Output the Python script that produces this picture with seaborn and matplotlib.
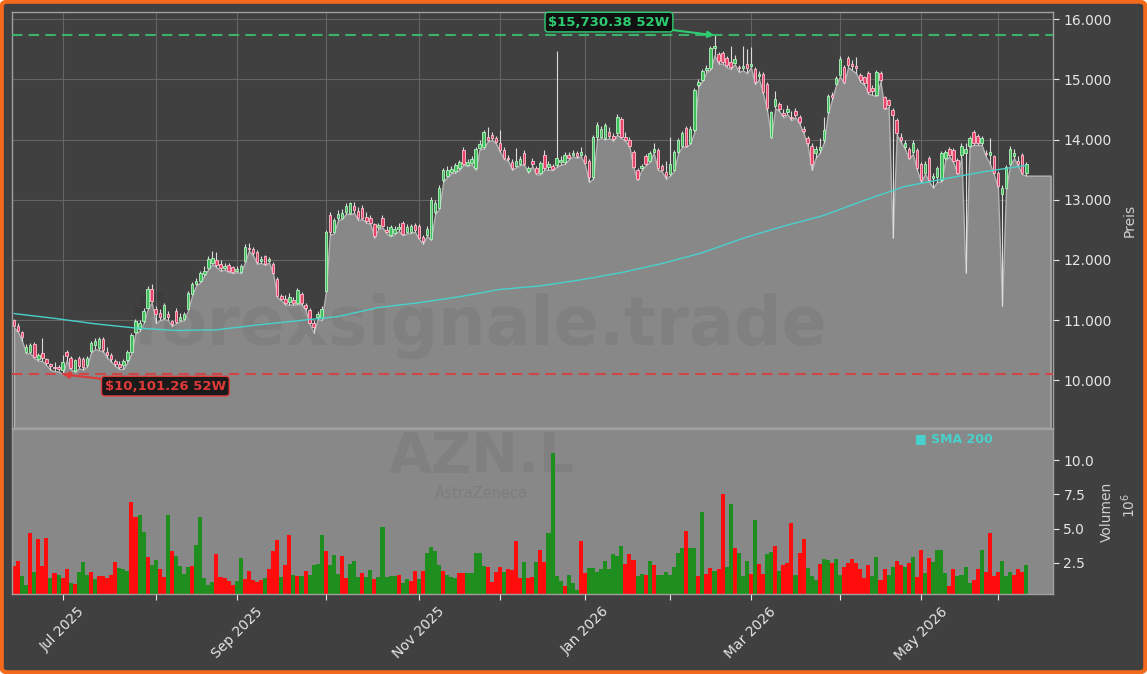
import numpy as np
import pandas as pd
import matplotlib
matplotlib.use("Agg")
import matplotlib.pyplot as plt
import seaborn as sns
from matplotlib.patches import FancyBboxPatch
from matplotlib.ticker import FuncFormatter

# ---- daily OHLC (GBp) ----
open_ = [
    11000, 10910, 10800, 10480, 10470, 10610, 10350, 10450, 10350, 10270,
    10230, 10220, 10170, 10470, 10370, 10160, 10370, 10360, 10260, 10490,
    10580, 10540, 10690, 10480, 10420, 10330, 10280, 10250, 10340, 10480,
    10800, 10850, 10990, 11200, 11520, 11180, 11120, 11040, 11100, 10990,
    11160, 11000, 11020, 11190, 11440, 11600, 11650, 11760, 11870, 11950,
    12000, 11940, 11860, 11920, 11880, 11820, 11800, 11990, 12200, 12190,
    12140, 11980, 12060, 11990, 11940, 11690, 11400, 11360, 11300, 11340,
    11290, 11440, 11250, 11170, 10960, 11060, 11040, 11490, 12740, 12460,
    12690, 12700, 12800, 12780, 12900, 12820, 12870, 12720, 12700, 12600,
    12540, 12690, 12500, 12410, 12450, 12510,
    12610, 12460, 12470,
    12580, 12560, 12380, 12420, 12350, 12800, 12870, 13320, 13400, 13460,
    13480, 13520, 13820, 13580, 13610, 13520, 13860, 13870, 14040, 14080,
    14030, 13940, 13820, 13700, 13620, 13560, 13600, 13770, 13470, 13650,
    13520, 13440, 13750, 13540, 13560, 13570, 13620, 13620, 13750, 13740,
    13770, 13740, 13720, 13650, 13370, 14040, 14040, 14020, 14130, 14050,
    14100, 14340, 14040, 14000, 13790, 13490, 13520, 13720, 13650, 13800,
    13820, 13560, 13460, 13420,
    13500, 13790, 13900, 14190, 13950,
    14150, 14900, 14990, 15150, 15180, 15520, 15420, 15440, 15350, 15280,
    15270, 15200, 15180, 15250, 15220, 15170, 15050, 15080, 14920, 14040,
    14550, 14590, 14440, 14450, 14380, 14470, 14370, 14170, 14020, 13900,
    13770, 13820,
    14000, 14450, 14740, 14920, 15070, 15200, 15350,
    15260, 15220, 15070, 15030, 15100, 14850, 14740, 15100, 14700, 14650,
    14490, 14320, 14040, 13870, 13850, 13790, 13820, 13600, 13450, 13700,
    13360, 13370, 13320, 13690, 13840, 13820, 13660, 13740, 13780, 13900,
    14120, 14060, 13940, 13770, 13750, 13720, 13440, 13090, 13190, 13600,
    13720, 13650, 13750, 13450,
]
high = [
    11020, 10950, 10820, 10600, 10620, 10640, 10450, 10700, 10370, 10290,
    10300, 10260, 10420, 10500, 10400, 10360, 10400, 10390, 10400, 10660,
    10700, 10720, 10720, 10560, 10450, 10350, 10330, 10350, 10500, 10780,
    11020, 11000, 11200, 11560, 11600, 11240, 11180, 11290, 11150, 11000,
    11200, 11120, 11140, 11480, 11640, 11700, 11820, 11900, 12060, 12150,
    12130, 12000, 11950, 11950, 11900, 11900, 11940, 12260, 12280, 12220,
    12170, 12060, 12080, 12050, 11960, 11720, 11430, 11420, 11450, 11380,
    11540, 11470, 11280, 11200, 11000, 11150, 11230, 12500, 12800, 12700,
    12830, 12850, 12950, 12970, 12960, 12880, 12920, 12800, 12750, 12620,
    12620, 12740, 12560, 12580, 12560, 12620,
    12650, 12590, 12600,
    12620, 12590, 12420, 12560, 13040, 12990, 13250, 13530, 13560, 13560,
    13610, 13660, 13870, 13680, 13720, 13880, 13990, 14160, 14200, 14130,
    14060, 14150, 13880, 13740, 13680, 13860, 13720, 13820, 13560, 13690,
    13560, 13650, 13820, 13650, 13600, 15470, 13720, 13800, 13790, 13830,
    13810, 13880, 13760, 13680, 14080, 14290, 14230, 14280, 14200, 14100,
    14420, 14370, 14120, 14040, 13820, 13520, 13600, 13760, 13810, 13950,
    13860, 13600, 13640, 14040,
    13830, 14030, 14140, 14230, 14220,
    14860, 15000, 15170, 15230, 15560, 15730.38, 15460, 15470, 15390, 15550,
    15400, 15240, 15560, 15500, 15540, 15200, 15130, 15120, 14960, 14480,
    14800, 14630, 14500, 14580, 14470, 14520, 14400, 14220, 14060, 13950,
    13900, 14020,
    14370, 14760, 14790, 15060, 15380, 15230, 15380,
    15320, 15370, 15100, 15060, 15130, 14900, 15160, 15130, 14720, 14680,
    14520, 14350, 14100, 13990, 13880, 14000, 13860, 13630, 13640, 13730,
    13440, 13560, 13810, 13830, 13870, 13860, 13700, 13950, 13950, 14060,
    14150, 14090, 14060, 13820, 14030, 13750, 13470, 13240, 13580, 13900,
    13840, 13730, 13780, 13620,
]
low = [
    10880, 10800, 10650, 10450, 10450, 10370, 10330, 10320, 10250, 10180,
    10150, 10150, 10101.26, 10330, 10190, 10140, 10200, 10180, 10230, 10460,
    10520, 10500, 10480, 10380, 10310, 10240, 10190, 10190, 10300, 10450,
    10780, 10820, 10950, 11180, 11300, 10950, 11000, 11020, 11000, 10900,
    10950, 10980, 11000, 11170, 11420, 11580, 11630, 11740, 11850, 11930,
    11880, 11820, 11840, 11800, 11780, 11800, 11780, 11960, 12150, 12080,
    11940, 11950, 11920, 11960, 11770, 11380, 11330, 11260, 11260, 11260,
    11270, 11260, 11170, 10940, 10790, 11020, 11000, 11460, 12420, 12440,
    12660, 12680, 12770, 12760, 12780, 12660, 12680, 12620, 12600, 12370,
    12520, 12540, 12440, 12390, 12430, 12480,
    12410, 12440, 12450,
    12470, 12350, 12270, 12400, 12330, 12760, 12850, 13300, 13380, 13440,
    13450, 13500, 13580, 13560, 13590, 13500, 13840, 13850, 13970, 13990,
    13940, 13800, 13680, 13650, 13500, 13540, 13580, 13580, 13450, 13560,
    13420, 13420, 13500, 13500, 13490, 13550, 13580, 13600, 13670, 13720,
    13700, 13720, 13590, 13290, 13350, 14000, 14020, 14000, 14020, 13980,
    14080, 14020, 13980, 13880, 13520, 13330, 13500, 13570, 13630, 13780,
    13500, 13470, 13350, 13400,
    13480, 13770, 13880, 13880, 13930,
    14120, 14880, 14970, 15120, 15160, 15400, 15260, 15260, 15200, 15170,
    15250, 15120, 15150, 15100, 15200, 14920, 15000, 14760, 14480, 14020,
    14520, 14470, 14370, 14420, 14320, 14370, 14260, 14100, 13900, 13490,
    13700, 13780,
    13950, 14430, 14660, 14900, 15050, 14930, 15200,
    15150, 15100, 14960, 14910, 14760, 14740, 14720, 14960, 14500, 14540,
    12370, 14080, 13960, 13850, 13680, 13760, 13500, 13300, 13430, 13300,
    13200, 13300, 13300, 13660, 13720, 13620, 13420, 13700, 11790, 13880,
    13910, 13910, 13910, 13720, 13600, 13420, 13200, 11240, 13170, 13580,
    13690, 13560, 13420, 13400,
]
close = [
    10900, 10820, 10720, 10560, 10580, 10390, 10420, 10380, 10290, 10240,
    10200, 10190, 10300, 10400, 10210, 10340, 10240, 10220, 10380, 10620,
    10650, 10690, 10500, 10430, 10350, 10280, 10230, 10320, 10480, 10750,
    10990, 10950, 11160, 11520, 11320, 11100, 11060, 11250, 11060, 10930,
    10970, 11060, 11100, 11450, 11600, 11650, 11780, 11820, 12020, 12040,
    11920, 11860, 11900, 11820, 11800, 11850, 11900, 12220, 12180, 12110,
    11960, 12020, 11940, 12010, 11790, 11400, 11360, 11290, 11380, 11290,
    11500, 11290, 11200, 10960, 10880, 11110, 11190, 12460, 12460, 12660,
    12770, 12780, 12900, 12940, 12830, 12700, 12700, 12650, 12620, 12400,
    12580, 12560, 12460, 12540, 12510, 12550,
    12430, 12550, 12560,
    12490, 12370, 12320, 12510, 12990, 12940, 13200, 13490, 13500, 13510,
    13570, 13620, 13600, 13630, 13680, 13840, 13930, 14120, 14000, 14020,
    13960, 13820, 13700, 13670, 13520, 13650, 13680, 13600, 13520, 13600,
    13440, 13610, 13520, 13600, 13510, 13690, 13660, 13750, 13690, 13780,
    13720, 13790, 13610, 13370, 14040, 14240, 14180, 14240, 14050, 14010,
    14370, 14040, 14000, 13900, 13540, 13350, 13560, 13590, 13770, 13850,
    13520, 13490, 13400, 13600,
    13790, 13990, 14100, 13900, 14170,
    14820, 14950, 15130, 15180, 15520, 15550, 15300, 15290, 15240, 15200,
    15340, 15180, 15220, 15180, 15260, 14950, 15080, 14790, 14520, 14450,
    14670, 14500, 14400, 14500, 14350, 14400, 14290, 14140, 13940, 13600,
    13850, 13880,
    14150, 14720, 14700, 15020, 15330, 14950, 15230,
    15220, 15190, 14990, 14940, 14790, 14800, 15120, 14990, 14520, 14570,
    14410, 14100, 13990, 13940, 13700, 13950, 13520, 13320, 13600, 13320,
    13390, 13520, 13770, 13790, 13750, 13650, 13450, 13900, 13850, 14020,
    13940, 13940, 14020, 13760, 13800, 13450, 13220, 13200, 13540, 13850,
    13770, 13600, 13450, 13590,
]

# ---- daily volume (millions) and bar direction (G up / R down) ----
volume_m = [
    2.28, 2.65, 1.53, 0.86, 4.71, 1.81, 4.21, 2.23, 4.28, 1.38,
    1.73, 1.58, 1.38, 2.05, 0.99, 0.91, 1.81, 2.55, 1.61, 1.81,
    1.29, 1.53, 1.53, 1.41, 1.56, 2.55, 2.10, 2.05, 1.91, 6.96,
    5.85, 5.97, 4.78, 2.95, 2.35, 2.72, 2.05, 1.48, 5.97, 3.39,
    3.02, 2.28, 1.68, 2.20, 2.28, 3.76, 5.85, 1.36, 0.86, 1.06,
    3.12, 1.46, 1.34, 1.19, 0.89, 1.16, 2.87, 1.31, 1.91, 1.24,
    1.11, 1.24, 1.38, 2.05, 3.32, 4.14, 1.46, 2.35, 4.51, 1.56,
    1.53, 1.53, 1.91, 1.61, 2.35, 2.43, 4.51, 3.32, 2.35, 3.09,
    1.68, 3.02, 1.34, 2.43, 2.62, 1.46, 1.76, 1.43, 1.93, 1.31,
    1.46, 5.10, 1.43, 1.53, 1.53, 1.61, 0.99, 1.31, 1.16, 1.91,
    1.31, 1.91, 3.19, 3.62, 3.37, 2.35, 1.91, 1.61, 1.48, 1.38,
    1.76, 1.73, 1.73, 1.76, 3.19, 3.24, 2.28, 2.15, 1.09, 1.83,
    2.15, 1.78, 2.05, 1.98, 4.06, 1.34, 2.57, 1.38, 1.48, 2.57,
    3.42, 2.57, 4.66, 10.53, 1.53, 1.16, 0.79, 1.61, 1.01, 0.49,
    4.06, 1.76, 2.13, 2.13,
    1.8, 2.0, 2.6, 2.0, 3.1, 3.0, 3.7, 2.4, 3.1, 2.7,
    1.5, 1.7, 1.6, 2.6, 2.3, 1.6, 1.6, 1.8, 1.6, 2.2,
    3.2, 3.6, 4.8, 3.6, 3.6, 1.5, 6.2, 1.7, 2.1, 1.9,
    2.0, 7.5, 2.2, 6.8, 3.6, 3.2, 1.5, 2.6, 1.7, 5.6,
    2.4, 1.7, 3.1, 3.3, 3.7, 1.9, 2.3, 2.5, 5.4, 1.6,
    3.2, 4.2, 2.1, 1.5, 1.2, 2.4, 2.8, 2.7, 2.5, 2.8,
    1.6, 2.2,
    2.5, 2.8, 2.45, 2.05, 1.4, 2.3, 1.5, 2.95, 1.24, 2.0,
    1.6, 2.2, 2.6, 2.3, 2.2, 2.5, 2.95, 1.45, 3.45, 1.75,
    2.85, 2.55, 3.45, 3.4, 1.75, 0.8, 2.0, 1.5, 1.6, 2.15,
    1.0, 1.25, 2.05, 3.4, 1.8, 4.65, 1.5, 1.8, 2.6, 1.55,
    1.85, 1.6, 2.0, 1.85, 2.3,
]
vol_dir = (
    "RRGGRGRRRG" "RGRRGRGGGR" "GRRRRRGGGR" "RGGRGGRRGR" "GGGGRGGGGG"
    "RRRRRGGRRR" "RRGRRRGRRG" "RGRGGGGRGG" "GRRGGGRGGR" "GGGGGRGGRR"
    "GRGGGGRGGG" "RRGGGGGRRR" "RGRRRRGRRG" "RRGGGGRGGG" "RRGG"
    "GGGGGGGRRR" "GGRGRGGGGG" "GGRGGRGRRG" "RRGGRGGGRG"
    "RRGGRGRRRG" "RRGGGRGGRG" "GR"
    "RRRRRRGGRR" "GGRRGRGRRG" "RGGGGRRGGG" "GRRGRRRRGG" "GRRRG"
)

# ---- SMA 200 sampled every 10 sessions ----
sma_idx = [0, 10, 20, 30, 40, 50, 60, 70, 80, 90, 100, 110, 120, 130,
           140, 150, 160, 170, 180, 190, 200, 210, 220, 230, 240, 250]
sma_200 = [11110, 11030, 10940, 10870, 10830, 10840, 10920, 10990, 11060,
           11210, 11290, 11390, 11510, 11570, 11670, 11790, 11940, 12120,
           12360, 12560, 12740, 12990, 13220, 13350, 13470, 13570]

uk_holidays = ["2025-08-25", "2025-12-25", "2025-12-26", "2026-01-01",
               "2026-04-03", "2026-04-06", "2026-05-04", "2026-05-25"]

n = len(close)
days = pd.bdate_range("2025-06-13", "2026-06-30")
days = days[~days.isin(pd.to_datetime(uk_holidays))][:n]
idx = np.arange(n)

month_starts = [i for i in range(1, n) if days[i].month != days[i - 1].month]
major = [i for i in month_starts if days[i].month % 2 == 1]
major_labels = [days[i].strftime("%b %Y") for i in major]

BG = "#404040"
FILL = "#888888"
UP_FACE, UP_EDGE = "#3fbf5a", "#b9f2c4"
DN_FACE, DN_EDGE = "#e8436a", "#ffc2cf"
SMA_C = "#48d1cc"
HI_C = "#2ecc71"
LO_C = "#e03a3a"
TXT = "#e6e6e6"

sns.set_theme(style="dark")
plt.rcParams["font.family"] = ["DejaVu Sans"]

fig = plt.figure(figsize=(11.47, 6.74), dpi=100, facecolor="white")
fig.patches.append(FancyBboxPatch((0.0015, 0.0025), 0.997, 0.995,
                                  boxstyle="round,pad=0,rounding_size=0.006",
                                  transform=fig.transFigure, fc=BG,
                                  ec="#f46a1c", lw=3, zorder=-10))

W, H = 1147, 674
ax_p = fig.add_axes([12 / W, 1 - 428 / H, 1041 / W, 416 / H])
ax_v = fig.add_axes([12 / W, 1 - 594 / H, 1041 / W, 165 / H])

o = np.array(open_, float)
h = np.array(high, float)
l = np.array(low, float)
c = np.array(close, float)
ylo, yhi = 9210, 16117
xlim = (-0.5, n + 5.6)

# ---- price pane ----
ax_p.set_facecolor(BG)
pad = 6
xf = np.arange(n + pad)
lf = np.r_[l, np.full(pad, l[-1])]
ax_p.fill_between(xf, lf, ylo, color=FILL, ec="#b3b3b3", lw=1.0, zorder=1)

ax_p.text(0.45, 0.245, "forexsignale.trade", transform=ax_p.transAxes,
          fontsize=48, fontweight="bold", color="black", alpha=0.055,
          ha="center", va="center", zorder=1.5)

ax_p.vlines(idx, l, h, color="#dcdcdc", lw=0.8, zorder=2)
up = c >= o
body = np.abs(c - o)
body = np.where(body < 15, 15, body)
ax_p.bar(idx[up], body[up], bottom=np.minimum(o, c)[up], width=0.62,
         color=UP_FACE, edgecolor=UP_EDGE, linewidth=0.6, zorder=3)
ax_p.bar(idx[~up], body[~up], bottom=np.minimum(o, c)[~up], width=0.62,
         color=DN_FACE, edgecolor=DN_EDGE, linewidth=0.6, zorder=3)

sns.lineplot(x=sma_idx, y=sma_200, ax=ax_p, color=SMA_C, lw=1.0, zorder=4)

imax = int(np.argmax(h))
imin = int(np.argmin(l))
ax_p.axhline(h[imax], color="#3cb36a", ls=(0, (5, 3)), lw=1.5, zorder=5)
ax_p.axhline(l[imin], color="#d04545", ls=(0, (5, 3)), lw=1.5, zorder=5)
ax_p.annotate(f"${h[imax]:,.2f} 52W".replace("$", r"\$"), xy=(imax, h[imax]),
              xytext=(-76, 9.5), textcoords="offset points",
              ha="center", va="center", fontsize=9.5, fontweight="bold",
              color=HI_C, zorder=6,
              bbox=dict(boxstyle="round,pad=0.25", fc="#111111", ec=HI_C, lw=1),
              arrowprops=dict(arrowstyle="-|>", color=HI_C, lw=1.5,
                              shrinkA=0, shrinkB=0))
ax_p.annotate(f"${l[imin]:,.2f} 52W".replace("$", r"\$"), xy=(imin, l[imin]),
              xytext=(74, -8.5), textcoords="offset points",
              ha="center", va="center", fontsize=9.5, fontweight="bold",
              color=LO_C, zorder=6,
              bbox=dict(boxstyle="round,pad=0.25", fc="#1a1a1a", ec=LO_C, lw=1),
              arrowprops=dict(arrowstyle="-|>", color=LO_C, lw=1.5,
                              shrinkA=0, shrinkB=0))

ax_p.set_xlim(*xlim)
ax_p.set_ylim(ylo, yhi)
ax_p.set_yticks(np.arange(10000, 16001, 1000))
ax_p.yaxis.set_major_formatter(FuncFormatter(lambda v, p: f"{v:,.0f}".replace(",", ".")))
ax_p.yaxis.tick_right()
ax_p.yaxis.set_label_position("right")
ax_p.set_ylabel("Preis", color="#cfcfcf", fontsize=10, labelpad=8)
ax_p.set_xticks(month_starts)
ax_p.tick_params(axis="x", length=0, labelbottom=False)
ax_p.tick_params(axis="y", colors=TXT, labelsize=10, length=4, width=0.8)
ax_p.grid(True, color="#646464", lw=0.8)
ax_p.set_axisbelow(True)
for s in ax_p.spines.values():
    s.set_color("#a0a0a0")
    s.set_linewidth(1)

# ---- volume pane ----
ax_v.set_facecolor(FILL)
vcol = ["#1e8f1e" if d == "G" else "#ff0d0d" for d in vol_dir]
ax_v.bar(idx, volume_m, width=1.0, color=vcol, linewidth=0, zorder=2)
ax_v.text(0.451, 0.83, "AZN.L", transform=ax_v.transAxes, fontsize=40,
          fontweight="bold", color="black", alpha=0.06, ha="center",
          va="center", zorder=1)
ax_v.text(0.451, 0.61, "AstraZeneca", transform=ax_v.transAxes, fontsize=10.5,
          color="black", alpha=0.08, ha="center", va="center", zorder=1)
ax_v.text(0.867, 0.945, "\u25a0 SMA 200", transform=ax_v.transAxes,
          fontsize=9, fontweight="bold", color=SMA_C, ha="left", va="center")
ax_v.set_xlim(*xlim)
ax_v.set_ylim(0.2, 12.3)
ax_v.set_yticks([2.5, 5.0, 7.5, 10.0])
ax_v.yaxis.set_major_formatter(FuncFormatter(lambda v, p: f"{v:.1f}"))
ax_v.yaxis.tick_right()
ax_v.yaxis.set_label_position("right")
ax_v.set_ylabel("Volumen", color="#cfcfcf", fontsize=10, labelpad=4)
ax_v.set_xticks(major)
ax_v.set_xticklabels(major_labels, rotation=45, ha="center")
ax_v.set_xticks(month_starts, minor=True)
ax_v.tick_params(axis="x", which="both", colors=TXT, labelsize=10,
                 length=4, width=0.8, bottom=True)
ax_v.tick_params(axis="y", colors=TXT, labelsize=10, length=4, width=0.8)
ax_v.grid(False)
for s in ax_v.spines.values():
    s.set_color("#a0a0a0")
    s.set_linewidth(1)
fig.text(1129 / W, 1 - 505 / H, r"$10^6$", rotation=90, color="#cfcfcf",
         fontsize=10, ha="center", va="center")

fig.savefig("out.png", dpi=100, facecolor=fig.get_facecolor())
